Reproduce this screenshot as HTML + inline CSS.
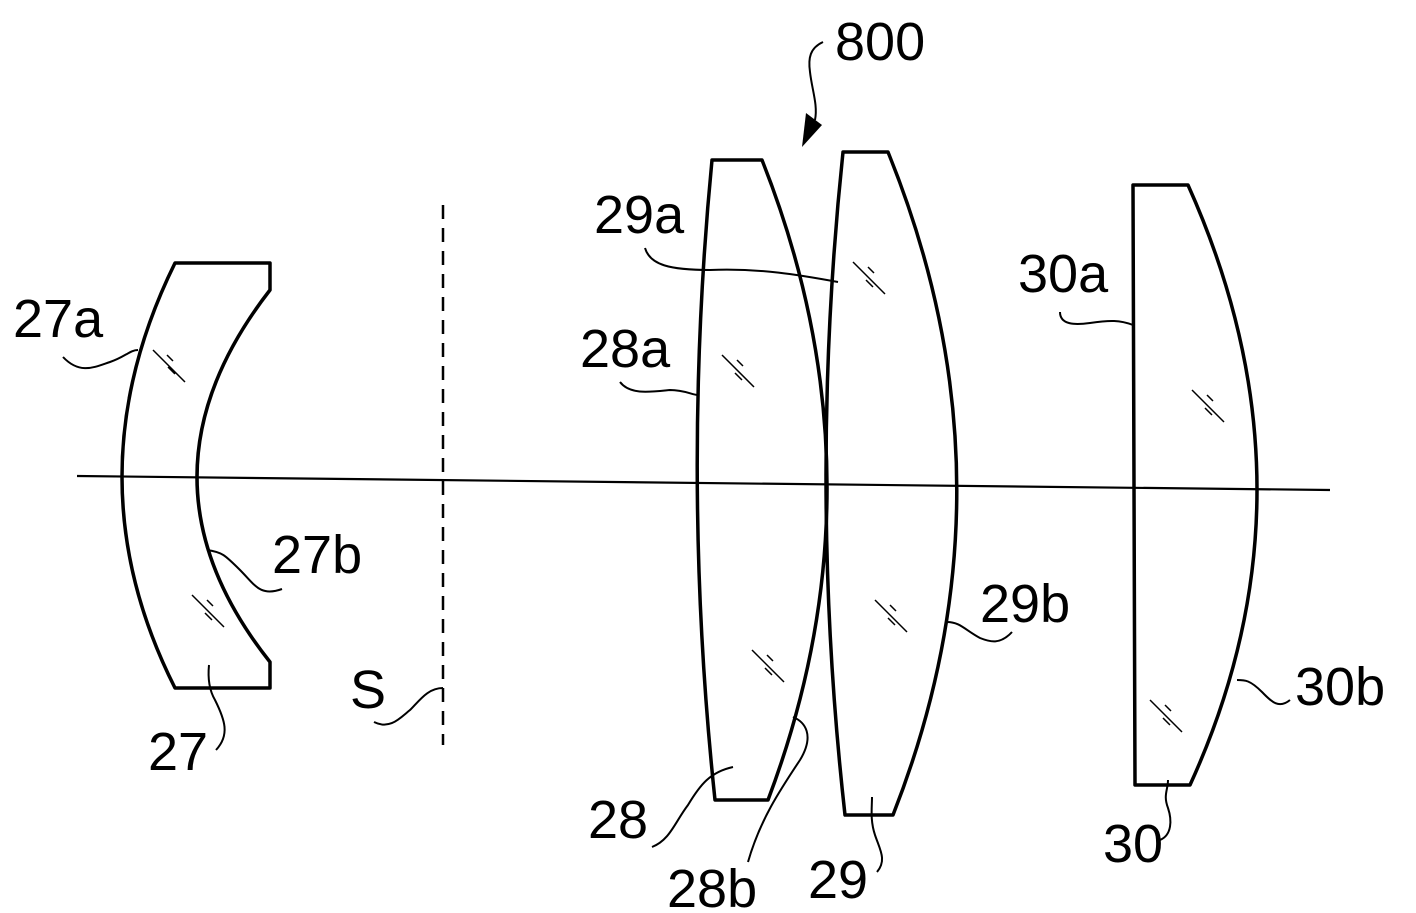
<!DOCTYPE html>
<html><head><style>
html,body{margin:0;padding:0;background:#fff;}
svg{display:block}
text{font-family:"Liberation Sans",Arial,sans-serif;font-size:54px;fill:#000}
</style></head><body>
<svg width="1416" height="913" viewBox="0 0 1416 913" xmlns="http://www.w3.org/2000/svg">
<g fill="none" stroke="#000" stroke-width="3.5" stroke-linejoin="round">
<!-- axis -->
<line x1="77" y1="476" x2="1330" y2="490" stroke-width="2.2"/>
<!-- S -->
<line x1="443" y1="205" x2="443" y2="745" stroke-dasharray="14,9" stroke-width="2.5"/>
<!-- lens 27 -->
<path d="M175,263 L270,263 L270,290 Q124,478 270,662 L270,688 L175,688 Q69,478 175,263 Z"/>
<!-- lens 28 -->
<path d="M712,160 L762,160 Q889,480 768,800 L715,800 Q681,480 712,160 Z"/>
<!-- lens 29 -->
<path d="M843,152 L888,152 Q1023,485 893,815 L845,815 Q808,485 843,152 Z"/>
<!-- lens 30 -->
<path d="M1133,185 L1188,185 Q1325,490 1190,785 L1135,785 Z"/>
<!-- leaders -->
<g stroke-width="2">
<path d="M63,357 C80,375 95,367 110,362 C125,357 130,350 138,350"/>
<path d="M282,589 C260,597 255,585 240,570 C225,555 222,552 207,550"/>
<path d="M216,750 C230,735 225,720 215,700 C208,688 208,675 209,665"/>
<path d="M374,722 C390,730 400,718 410,710 C420,700 428,688 443,688"/>
<path d="M645,248 C650,265 670,270 710,270 C760,268 800,275 838,282"/>
<path d="M620,382 C630,395 650,392 670,390 C685,390 692,395 698,395"/>
<path d="M652,847 C670,840 675,822 688,805 C700,785 710,772 733,767"/>
<path d="M748,862 C760,820 780,790 800,760 C815,735 805,722 793,717"/>
<path d="M877,872 C887,860 880,850 875,835 C870,820 872,808 872,797"/>
<path d="M1012,632 C1000,645 990,642 980,638 C965,630 960,622 947,622"/>
<path d="M1060,312 C1060,325 1075,325 1090,323 C1110,320 1120,320 1133,325"/>
<path d="M1290,700 C1278,710 1270,700 1262,692 C1250,680 1245,680 1237,680"/>
<path d="M1160,840 C1172,835 1172,820 1168,808 C1163,795 1168,790 1168,780"/>
<path d="M823,42 C810,48 808,58 810,72 C812,90 818,105 815,120"/>
</g>
<!-- hatch -->
<g stroke-width="1.5">
<path d="M153,350 L185,382 M167,355 L173,361 M168,367 L175,374"/>
<path d="M192,595 L224,627 M207,600 L213,606 M205,613 L212,620"/>
<path d="M722,355 L754,387 M737,360 L743,366 M735,373 L742,380"/>
<path d="M752,650 L784,682 M767,655 L773,661 M765,668 L772,675"/>
<path d="M853,262 L885,294 M868,267 L874,273 M866,280 L873,287"/>
<path d="M875,600 L907,632 M890,605 L896,611 M888,618 L895,625"/>
<path d="M1192,390 L1224,422 M1207,395 L1213,401 M1205,408 L1212,415"/>
<path d="M1150,700 L1182,732 M1165,705 L1171,711 M1163,718 L1170,725"/>
</g>
</g>
<path d="M802,147 L806,113 L822,125 Z" fill="#000"/>
<text x="835" y="60">800</text>
<text x="13" y="337">27a</text>
<text x="272" y="573">27b</text>
<text x="148" y="770">27</text>
<text x="350" y="708">S</text>
<text x="594" y="233">29a</text>
<text x="580" y="367">28a</text>
<text x="588" y="838">28</text>
<text x="667" y="907">28b</text>
<text x="808" y="898">29</text>
<text x="980" y="622">29b</text>
<text x="1018" y="292">30a</text>
<text x="1295" y="705">30b</text>
<text x="1103" y="862">30</text>
</svg>
</body></html>
